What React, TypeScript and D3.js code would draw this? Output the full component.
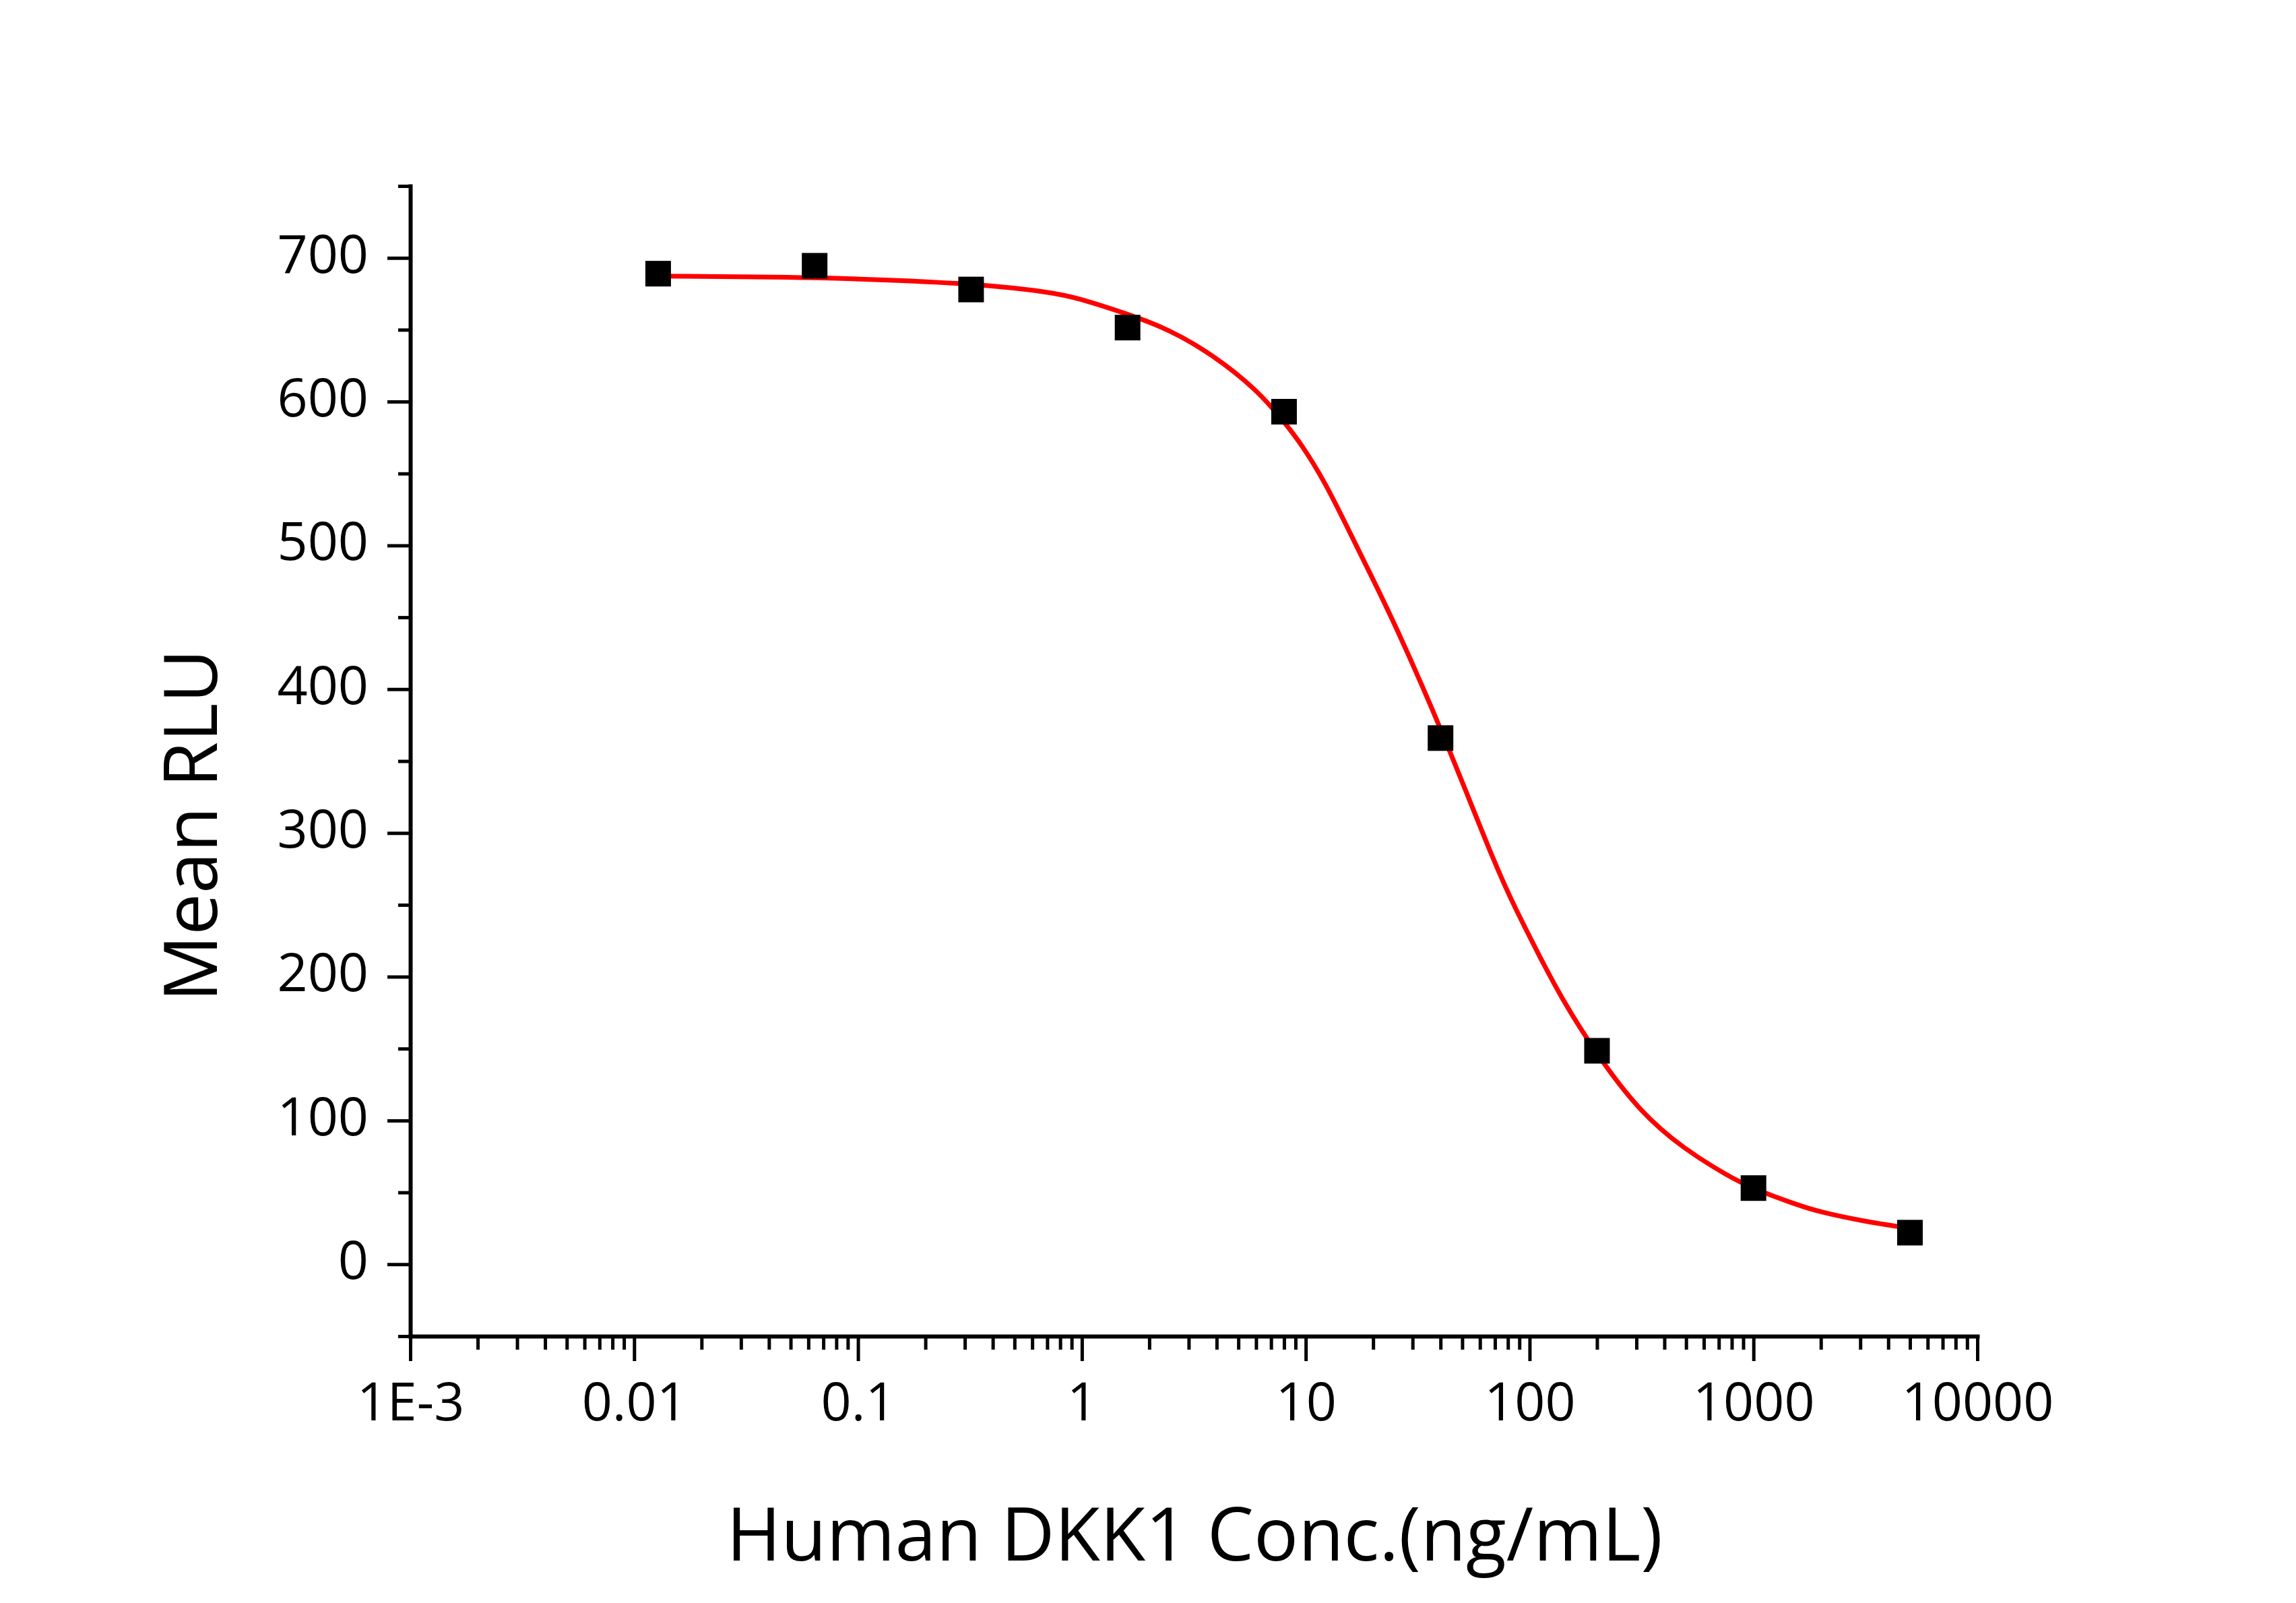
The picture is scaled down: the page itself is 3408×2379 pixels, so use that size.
import React, { useEffect, useRef } from 'react';
import * as d3 from 'd3';

// measured points (ng/mL, mean RLU)
const concentrations = [0.0128, 0.064, 0.32, 1.6, 8, 40, 200, 1000, 5000];
const meanRLU = [689, 694.5, 678, 651.5, 593, 366, 148.5, 53, 22];

// fitted curve
const fitConc = [
  0.0128, 0.064, 0.32, 0.74, 0.96, 1.6, 2.42, 3.84, 6.1, 8, 9.66, 12.18, 15.35, 19.3, 24.4, 40, 70.8, 86.7, 109.3,
  137.6, 200, 309, 490, 778, 1000, 1556, 1960, 3206, 5000,
];
const fitRLU = [
  687.3, 686.7, 682.5, 676, 672, 661, 650.7, 632.8, 607.8, 586, 569.5, 544, 512.5, 481, 449, 374, 276, 247, 216, 186,
  145.5, 106.4, 80, 61, 52.5, 41.5, 36.5, 29.5, 25,
];

const xMajorTicks = [0.001, 0.01, 0.1, 1, 10, 100, 1000, 10000];
const xTickLabels = ['1E-3', '0.01', '0.1', '1', '10', '100', '1000', '10000'];
const yMajorTicks = [0, 100, 200, 300, 400, 500, 600, 700];
const yMinorTicks = [-50, 50, 150, 250, 350, 450, 550, 650, 750];

const W = 3408;
const H = 2379;
const FONT = '"Open Sans", "Noto Sans", sans-serif';

const App = () => {
  const svgRef = useRef<SVGSVGElement | null>(null);

  useEffect(() => {
    document.body.style.margin = '0';
    const svg = d3.select(svgRef.current);
    svg.selectAll('*').remove();

    const margin = { top: 276, right: 473, bottom: 396, left: 609 };
    const width = W - margin.left - margin.right;
    const height = H - margin.top - margin.bottom;

    const x = d3.scaleLog().domain([0.001, 10000]).range([0, width]);
    const y = d3.scaleLinear().domain([-50, 750]).range([height, 0]);

    const g = svg.append('g').attr('transform', `translate(${margin.left},${margin.top})`);

    // minor x ticks 2..9 per decade
    const xMinorTicks: number[] = [];
    xMajorTicks.slice(0, -1).forEach((d) => {
      for (let k = 2; k <= 9; k++) xMinorTicks.push(d * k);
    });

    // y axis
    g.append('g')
      .call(d3.axisLeft(y).tickValues(yMinorTicks).tickSize(18).tickSizeOuter(0).tickFormat(() => ''))
      .call((a) => a.select('.domain').remove());
    const yAxis = g
      .append('g')
      .call(d3.axisLeft(y).tickValues(yMajorTicks).tickSize(34).tickSizeOuter(0).tickPadding(28).tickFormat(d3.format('d')));
    yAxis.selectAll('.tick text').attr('dy', '0.27em');

    // x axis
    g.append('g')
      .attr('transform', `translate(0,${height})`)
      .call(d3.axisBottom(x).tickValues(xMinorTicks).tickSize(20).tickSizeOuter(0).tickFormat(() => ''))
      .call((a) => a.select('.domain').remove());
    const xAxis = g
      .append('g')
      .attr('transform', `translate(0,${height})`)
      .call(
        d3
          .axisBottom(x)
          .tickValues(xMajorTicks)
          .tickSize(37)
          .tickSizeOuter(0)
          .tickFormat((d, i) => xTickLabels[i])
      );
    xAxis.selectAll('.tick text').attr('y', 125).attr('dy', 0);

    g.selectAll('.domain').attr('stroke', '#000').attr('stroke-width', 6).attr('stroke-linecap', 'square');
    g.selectAll('.tick line').attr('stroke', '#000').attr('stroke-width', 5);
    g.selectAll('.tick text').style('font-family', FONT).style('font-size', '79px').attr('fill', '#000');

    // fitted curve
    const fit = fitConc.map((c, i) => [c, fitRLU[i]] as [number, number]);
    g.append('path')
      .datum(fit)
      .attr('fill', 'none')
      .attr('stroke', '#ff0000')
      .attr('stroke-width', 7)
      .attr('stroke-linecap', 'round')
      .attr(
        'd',
        d3
          .line<[number, number]>()
          .x((d) => x(d[0]))
          .y((d) => y(d[1]))
          .curve(d3.curveBasis)
      );

    // points
    const size = 38;
    g.selectAll('.pt')
      .data(concentrations)
      .enter()
      .append('rect')
      .attr('x', (d) => x(d) - size / 2)
      .attr('y', (d, i) => y(meanRLU[i]) - size / 2)
      .attr('width', size)
      .attr('height', size)
      .attr('fill', '#000');

    // titles
    svg
      .append('text')
      .attr('transform', `translate(322,1225) rotate(-90)`)
      .attr('text-anchor', 'middle')
      .style('font-family', FONT)
      .style('font-size', '110px')
      .text('Mean RLU');

    svg
      .append('text')
      .attr('x', 1773)
      .attr('y', 2316)
      .attr('text-anchor', 'middle')
      .style('font-family', FONT)
      .style('font-size', '110px')
      .text('Human DKK1 Conc.(ng/mL)');
  }, []);

  return <svg ref={svgRef} width={W} height={H} style={{ display: 'block', background: '#fff' }} />;
};

export default App;
